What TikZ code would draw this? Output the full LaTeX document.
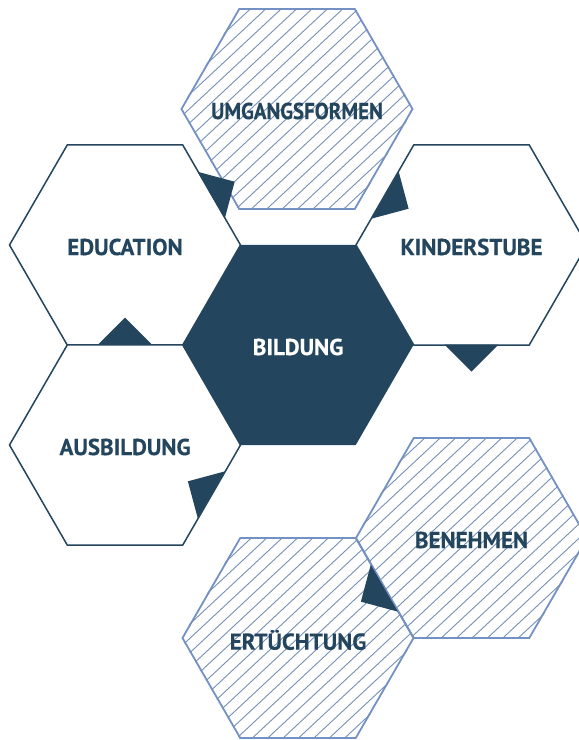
\documentclass[tikz,border=0pt]{standalone}
\usepackage{graphicx}
\usepackage{fontspec}
\setmainfont{PT Sans}[BoldFeatures={FakeBold=0.3}]
\usetikzlibrary{shapes.geometric,calc}

\definecolor{navy}{HTML}{23455D}
\definecolor{hatch}{HTML}{7491C6}
\definecolor{hatchline}{HTML}{7590B6}

\begin{document}
\begin{tikzpicture}[x=1pt,y=1pt,
		hex/.style={regular polygon, regular polygon sides=6, minimum size=231pt, inner sep=0pt, line width=1.5pt},
		titel/.style={font=\bfseries\fontsize{23}{23}\selectfont, text=navy, yshift=-2pt},
		voll/.style={hex, fill=navy},
		leer/.style={hex, draw=navy, fill=white},
		schraffiert/.style={hex, draw=hatch, line width=1.8pt},
		schraffur/.style={draw=hatchline, line width=0.9pt},
		zeiger/.style={fill=navy}]
				\useasboundingbox (0,0) rectangle (579,-740);

				\node[voll, label={[titel, text=white]center:BILDUNG}] (bildung) at (298,-345) {};
				\node[leer, label={[titel]center:EDUCATION}] (education) at (125,-245) {};
				\node[leer, label={[titel]center:AUSBILDUNG}] (ausbildung) at (125,-445) {};
				\node[leer, label={[titel]center:KINDERSTUBE}] (kinderstube) at (471.5,-245) {};

				\node[schraffiert] (umgangsformen) at (297,-109) {};
				\node[schraffiert] (benehmen) at (471.5,-538) {};
				\node[schraffiert] (ertuechtigung) at (298,-638) {};

				% Schraffur, auf das Sechseck geclippt
				\foreach \n in {umgangsformen,benehmen,ertuechtigung} {
					\begin{scope}
						\clip (\n.corner 1) -- (\n.corner 2) -- (\n.corner 3) -- (\n.corner 4) -- (\n.corner 5) -- (\n.corner 6) -- cycle;
						\foreach \k in {-13,...,13}
							\draw[schraffur] ($(\n)+(133:\k*10.5pt)+(43:140pt)$) -- ($(\n)+(133:\k*10.5pt)+(223:140pt)$);
					\end{scope}
				}

				\node[titel] at (umgangsformen) {\scalebox{0.91}[1]{UMGANGSFORMEN}};
				\node[titel] at (benehmen) {BENEHMEN};
				\node[titel] at (ertuechtigung) {ERTÜCHTUNG};

				% Zeiger auf den Kanten: Kantenmitte bei 99.6pt, halbe Basis 27pt, Hoehe 27pt
				\fill[zeiger] ($(education)+(30:99.6pt)+(120:27pt)$) -- ($(education)+(30:99.6pt)+(-60:27pt)$) -- ($(education)+(30:126.6pt)$) -- cycle; % nach aussen
				\fill[zeiger] ($(education)+(270:99.6pt)+(0:27pt)$) -- ($(education)+(270:99.6pt)+(180:27pt)$) -- ($(education)+(270:72.6pt)$) -- cycle; % nach innen
				\fill[zeiger] ($(kinderstube)+(150:99.6pt)+(60:27pt)$) -- ($(kinderstube)+(150:99.6pt)+(240:27pt)$) -- ($(kinderstube)+(150:72.6pt)$) -- cycle; % nach innen
				\fill[zeiger] ($(kinderstube)+(270:99.6pt)+(0:27pt)$) -- ($(kinderstube)+(270:99.6pt)+(180:27pt)$) -- ($(kinderstube)+(270:126.6pt)$) -- cycle; % nach aussen
				\fill[zeiger] ($(ausbildung)+(330:99.6pt)+(60:27pt)$) -- ($(ausbildung)+(330:99.6pt)+(240:27pt)$) -- ($(ausbildung)+(330:72.6pt)$) -- cycle; % nach innen
				\fill[zeiger] ($(ertuechtigung)+(30:99.6pt)+(120:27pt)$) -- ($(ertuechtigung)+(30:99.6pt)+(-60:27pt)$) -- ($(ertuechtigung)+(30:72.6pt)$) -- cycle; % nach innen
			\end{tikzpicture}
\end{document}
